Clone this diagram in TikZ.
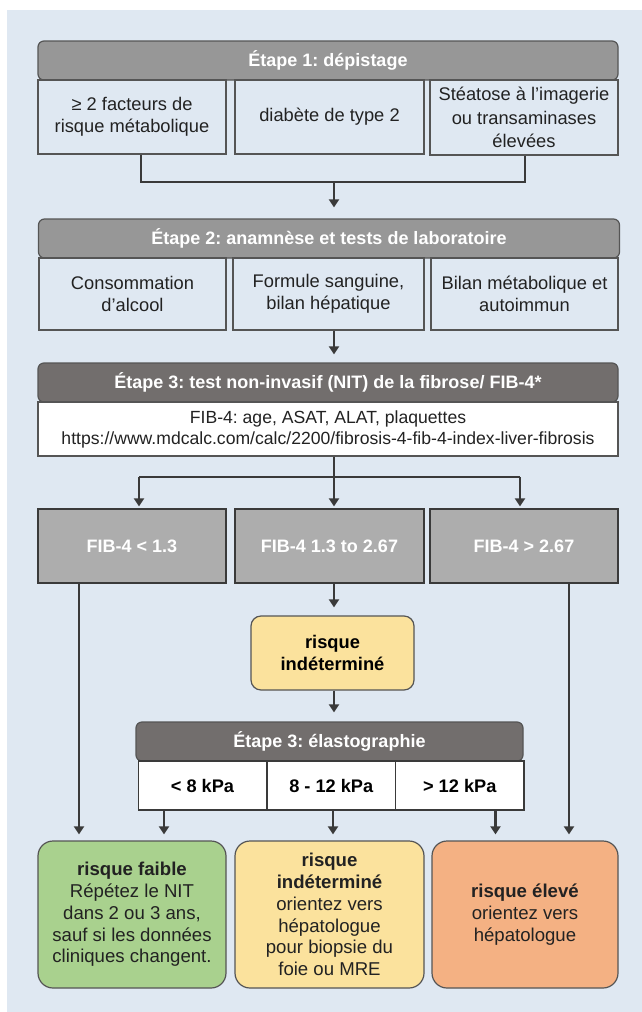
\documentclass[tikz,border=0pt]{standalone}
\usepackage{fontspec}
\setmainfont{Liberation Sans}
\usetikzlibrary{arrows.meta}
\frenchspacing
\definecolor{bg}{HTML}{DFE8F2}
\definecolor{hdrA}{HTML}{979797}
\definecolor{hdrC}{HTML}{726E6D}
\definecolor{lineg}{HTML}{555555}
\definecolor{arr}{HTML}{3A3A3A}
\definecolor{fibg}{HTML}{ADADAD}
\definecolor{grn}{HTML}{A9D18E}
\definecolor{ylw}{HTML}{FBE29D}
\definecolor{org}{HTML}{F4B183}
\definecolor{txt}{HTML}{222222}
\tikzset{
  hdr/.style={draw=lineg, line width=1.2pt, rounded corners=6pt, text=white,
    font=\bfseries\fontsize{18}{21}\selectfont, minimum height=38pt, inner sep=0pt},
  cell/.style={draw=lineg, fill=bg, line width=1.2pt, align=center, text=txt,
    font=\fontsize{18.3}{22.5}\selectfont, inner sep=0pt},
  fibbox/.style={draw=arr, fill=fibg, line width=1.2pt, text=white,
    font=\bfseries\fontsize{18}{21}\selectfont, minimum width=188pt, minimum height=74pt, inner sep=0pt},
  kbox/.style={draw=arr, fill=white, line width=1.2pt, text=black,
    font=\bfseries\fontsize{18.2}{21}\selectfont, minimum width=128.5pt, minimum height=49pt, inner sep=0pt},
  outbox/.style={draw=lineg, line width=1.2pt, rounded corners=15pt, align=center, text=txt,
    font=\fontsize{18.6}{21.8}\selectfont, minimum height=147pt, inner sep=0pt},
  plain/.style={draw=arr, line width=2.6pt},
  conn/.style={draw=arr, line width=2.6pt, -{Triangle[width=10pt,length=8pt]}},
}
\begin{document}
\begin{tikzpicture}[x=1pt,y=-1pt]
\useasboundingbox (0,0) rectangle (642,1012);
\fill[white] (0,0) rectangle (642,1012);
\fill[bg] (7,10) rectangle (642,1012);

% Step 1
\node[hdr, fill=hdrA, minimum width=580pt, minimum height=39pt] (h1) at (328,60.5) {Étape 1: dépistage};
\node[cell, minimum width=188pt, minimum height=74pt] (s1a) at (132,117) {≥ 2 facteurs de\\risque métabolique};
\node[cell, minimum width=189pt, minimum height=74pt] (s1b) at (329.5,117) {diabète de type 2};
\node[cell, fill=bg, minimum width=188pt, minimum height=75pt, font=\fontsize{18.3}{23.3}\selectfont] (s1c) at (524,117.5) {Stéatose à l’imagerie\\ou transaminases\\élevées};

% Step 2
\node[hdr, fill=hdrA, minimum width=581pt, minimum height=39pt] (h2) at (329,238.5) {Étape 2: anamnèse et tests de laboratoire};
\node[cell, minimum width=187pt, minimum height=72pt] (s2a) at (132.5,294) {Consommation\\d’alcool};
\node[cell, minimum width=191pt, minimum height=72pt] (s2b) at (328.5,294) {Formule sanguine,\\bilan hépatique};
\node[cell, minimum width=187pt, minimum height=72pt] (s2c) at (524.5,294) {Bilan métabolique et\\autoimmun};

% Step 3
\node[hdr, fill=hdrC, minimum width=580pt, minimum height=39pt] (h3) at (328,382.5) {Étape 3: test non-invasif (NIT) de la fibrose/ FIB-4*};
\node[cell, fill=white, minimum width=580pt, minimum height=54pt, font=\fontsize{17.6}{21}\selectfont] (fib) at (328,429)
  {FIB-4: age, ASAT, ALAT, plaquettes\\https://www.mdcalc.com/calc/2200/fibrosis-4-fib-4-index-liver-fibrosis};

% FIB-4 results
\node[fibbox] (f1) at (132,546) {FIB-4 < 1.3};
\node[fibbox, minimum width=189pt] (f2) at (329.5,546) {FIB-4 1.3 to 2.67};
\node[fibbox] (f3) at (524,546) {FIB-4 > 2.67};

% indeterminate
\node[draw=lineg, fill=ylw, line width=1.2pt, rounded corners=10pt, minimum width=163pt, minimum height=74pt,
  align=center, font=\bfseries\fontsize{18.3}{21.5}\selectfont, text=black, inner sep=0pt] (ri) at (332.5,653) {risque\\indéterminé};

% elastography
\node[hdr, fill=hdrC, minimum width=387pt, minimum height=39pt] (eh) at (329.5,741.5) {Étape 3: élastographie};
\node[kbox] (k1) at (202.5,785.5) {< 8 kPa};
\node[kbox] (k2) at (331.25,785.5) {8 - 12 kPa};
\node[kbox] (k3) at (459.75,785.5) {> 12 kPa};

% outcomes
\node[outbox, fill=grn, minimum width=188pt] (b1) at (132,914.5)
  {\textbf{risque faible}\\Répétez le NIT\\dans 2 ou 3 ans,\\sauf si les données\\cliniques changent.};
\node[outbox, fill=ylw, minimum width=189pt] (b2) at (329.5,914.5)
  {\textbf{risque}\\\textbf{indéterminé}\\orientez vers\\hépatologue\\pour biopsie du\\foie ou MRE};
\node[outbox, fill=org, minimum width=186pt] (b3) at (525,914.5)
  {\textbf{risque élevé}\\orientez vers\\hépatologue};

% connectors step 1 -> step 2
\coordinate (j1) at (334,182);
\draw[plain] (s1a.south -| 141,0) |- (j1);
\draw[plain] (s1c.south -| 525,0) |- (j1);
\draw[conn, shorten >=11pt] (j1) -- (h2.north -| j1);

% step 2 -> step 3
\draw[conn, shorten >=8pt] (s2b.south -| 334,0) -- (h3.north -| 334,0);

% fib -> results
\coordinate (j2) at (334,477);
\coordinate (j2l) at (139,477);
\coordinate (j2r) at (520,477);
\draw[plain] (fib.south -| j2) -- (j2);
\draw[plain] (j2l) -- (j2r);
\draw[conn, shorten >=2pt] (j2l) -- (f1.north -| j2l);
\draw[conn, shorten >=2pt] (j2) -- (f2.north -| j2);
\draw[conn, shorten >=2pt] (j2r) -- (f3.north -| j2r);

% middle path
\draw[conn, shorten >=8pt] (f2.south -| 334,0) -- (ri.north -| 334,0);
\draw[conn, shorten >=9pt] (ri.south -| 334,0) -- (eh.north -| 334,0);

% long lines
\draw[conn, shorten >=6pt] (f1.south -| 79,0) -- (b1.north -| 79,0);
\draw[conn, shorten >=6pt] (f3.south -| 569,0) -- (b3.north -| 569,0);

% kPa arrows
\draw[conn, shorten >=6pt] (k1.south -| 164,0) -- (b1.north -| 164,0);
\draw[conn, shorten >=6pt] (k2.south -| 333,0) -- (b2.north -| 333,0);
\draw[conn, shorten >=6pt] (k3.south -| 495.5,0) -- (b3.north -| 495.5,0);
\end{tikzpicture}
\end{document}
